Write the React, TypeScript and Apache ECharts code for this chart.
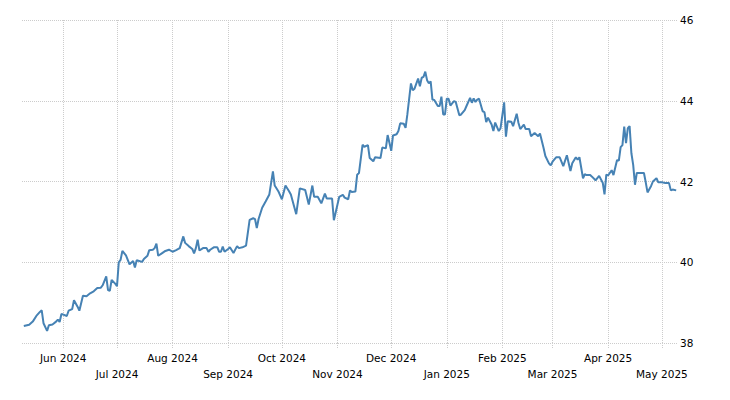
import React, { useEffect, useRef } from "react";
import * as echarts from "echarts";

const DATES: string[] = [
  "2024-05-10", "2024-05-13", "2024-05-15", "2024-05-17", "2024-05-19", "2024-05-20", "2024-05-21", "2024-05-23",
  "2024-05-24", "2024-05-26", "2024-05-28", "2024-05-29", "2024-05-30", "2024-05-31", "2024-06-03", "2024-06-04",
  "2024-06-06", "2024-06-07", "2024-06-09", "2024-06-10", "2024-06-12", "2024-06-14", "2024-06-16", "2024-06-18",
  "2024-06-20", "2024-06-22", "2024-06-23", "2024-06-25", "2024-06-26", "2024-06-27", "2024-06-28", "2024-06-30",
  "2024-07-01", "2024-07-02", "2024-07-03", "2024-07-04", "2024-07-06", "2024-07-08", "2024-07-10", "2024-07-11",
  "2024-07-12", "2024-07-15", "2024-07-16", "2024-07-18", "2024-07-19", "2024-07-21", "2024-07-22", "2024-07-23",
  "2024-07-24", "2024-07-26", "2024-07-28", "2024-07-30", "2024-08-01", "2024-08-03", "2024-08-05", "2024-08-07",
  "2024-08-08", "2024-08-10", "2024-08-12", "2024-08-13", "2024-08-14", "2024-08-15", "2024-08-16", "2024-08-18",
  "2024-08-20", "2024-08-21", "2024-08-22", "2024-08-24", "2024-08-26", "2024-08-27", "2024-08-28", "2024-08-29",
  "2024-08-30", "2024-09-01", "2024-09-02", "2024-09-04", "2024-09-06", "2024-09-07", "2024-09-09", "2024-09-11",
  "2024-09-13", "2024-09-15", "2024-09-16", "2024-09-17", "2024-09-18", "2024-09-20", "2024-09-22", "2024-09-24",
  "2024-09-26", "2024-09-27", "2024-09-29", "2024-10-01", "2024-10-03", "2024-10-05", "2024-10-06", "2024-10-09",
  "2024-10-11", "2024-10-14", "2024-10-16", "2024-10-18", "2024-10-19", "2024-10-21", "2024-10-23", "2024-10-25",
  "2024-10-26", "2024-10-29", "2024-10-30", "2024-10-31", "2024-11-02", "2024-11-04", "2024-11-05", "2024-11-07",
  "2024-11-08", "2024-11-09", "2024-11-11", "2024-11-12", "2024-11-13", "2024-11-15", "2024-11-16", "2024-11-18",
  "2024-11-19", "2024-11-21", "2024-11-22", "2024-11-25", "2024-11-26", "2024-11-28", "2024-11-29", "2024-11-30",
  "2024-12-01", "2024-12-02", "2024-12-04", "2024-12-05", "2024-12-06", "2024-12-08", "2024-12-09", "2024-12-10",
  "2024-12-12", "2024-12-13", "2024-12-14", "2024-12-16", "2024-12-17", "2024-12-18", "2024-12-19", "2024-12-20",
  "2024-12-21", "2024-12-22", "2024-12-23", "2024-12-24", "2024-12-25", "2024-12-27", "2024-12-28", "2024-12-29",
  "2024-12-30", "2024-12-31", "2025-01-01", "2025-01-02", "2025-01-03", "2025-01-05", "2025-01-06", "2025-01-08",
  "2025-01-09", "2025-01-11", "2025-01-12", "2025-01-14", "2025-01-15", "2025-01-16", "2025-01-17", "2025-01-18",
  "2025-01-19", "2025-01-21", "2025-01-22", "2025-01-23", "2025-01-24", "2025-01-26", "2025-01-27", "2025-01-28",
  "2025-01-30", "2025-01-31", "2025-02-02", "2025-02-03", "2025-02-04", "2025-02-06", "2025-02-07", "2025-02-09",
  "2025-02-10", "2025-02-11", "2025-02-13", "2025-02-14", "2025-02-16", "2025-02-17", "2025-02-19", "2025-02-21",
  "2025-02-22", "2025-02-24", "2025-02-25", "2025-02-27", "2025-02-28", "2025-03-01", "2025-03-03", "2025-03-05",
  "2025-03-07", "2025-03-09", "2025-03-11", "2025-03-12", "2025-03-14", "2025-03-15", "2025-03-16", "2025-03-18",
  "2025-03-19", "2025-03-20", "2025-03-22", "2025-03-23", "2025-03-25", "2025-03-27", "2025-03-29", "2025-03-30",
  "2025-03-31", "2025-04-01", "2025-04-03", "2025-04-04", "2025-04-06", "2025-04-07", "2025-04-08", "2025-04-09",
  "2025-04-10", "2025-04-11", "2025-04-12", "2025-04-13", "2025-04-14", "2025-04-15", "2025-04-16", "2025-04-17",
  "2025-04-20", "2025-04-21", "2025-04-22", "2025-04-23", "2025-04-25", "2025-04-26", "2025-04-28", "2025-04-29",
  "2025-05-01", "2025-05-03", "2025-05-05", "2025-05-06", "2025-05-07", "2025-05-09",
];

const VALUES: number[] = [
  38.42, 38.45, 38.53, 38.67, 38.77, 38.81, 38.49, 38.30,
  38.44, 38.46, 38.53, 38.58, 38.52, 38.72, 38.67, 38.80,
  38.84, 39.06, 38.90, 38.80, 39.17, 39.16, 39.23, 39.28,
  39.36, 39.37, 39.43, 39.65, 39.31, 39.29, 39.56, 39.47,
  39.41, 40.00, 40.06, 40.28, 40.17, 39.95, 40.03, 39.87,
  40.05, 40.01, 40.08, 40.16, 40.30, 40.31, 40.35, 40.46,
  40.16, 40.22, 40.28, 40.31, 40.26, 40.30, 40.35, 40.64,
  40.48, 40.40, 40.33, 40.22, 40.35, 40.56, 40.29, 40.35,
  40.35, 40.26, 40.31, 40.37, 40.37, 40.26, 40.26, 40.39,
  40.26, 40.33, 40.37, 40.23, 40.40, 40.35, 40.37, 40.41,
  41.05, 41.09, 41.07, 40.85, 41.07, 41.35, 41.51, 41.68,
  42.25, 41.90, 41.76, 41.56, 41.90, 41.76, 41.68, 41.19,
  41.83, 41.79, 41.43, 41.90, 41.62, 41.62, 41.46, 41.70,
  41.58, 41.58, 41.04, 41.23, 41.62, 41.67, 41.60, 41.56,
  41.78, 41.74, 41.75, 42.17, 42.21, 42.91, 42.86, 42.90,
  42.58, 42.50, 42.60, 42.58, 42.84, 42.82, 43.15, 42.96,
  42.76, 43.14, 43.17, 43.25, 43.44, 43.43, 43.33, 43.66,
  44.43, 44.26, 44.30, 44.55, 44.36, 44.57, 44.59, 44.72,
  44.51, 44.43, 44.48, 44.03, 44.02, 43.87, 43.87, 44.10,
  43.66, 43.66, 44.05, 44.05, 43.88, 43.99, 43.97, 43.64,
  43.66, 43.77, 43.87, 44.07, 43.95, 44.06, 43.97, 44.03,
  44.05, 43.74, 43.72, 43.47, 43.58, 43.41, 43.25, 43.46,
  43.25, 43.32, 43.96, 43.11, 43.49, 43.48, 43.37, 43.68,
  43.45, 43.30, 43.41, 43.30, 43.30, 43.12, 43.20, 43.12,
  43.19, 42.83, 42.63, 42.45, 42.40, 42.49, 42.60, 42.60,
  42.38, 42.65, 42.26, 42.45, 42.60, 42.54, 42.60, 42.08,
  42.18, 42.16, 42.16, 42.12, 42.03, 42.14, 41.97, 41.68,
  42.17, 42.15, 42.28, 42.16, 42.53, 42.52, 42.85, 42.90,
  43.36, 42.95, 43.32, 43.37, 42.70, 42.41, 41.92, 42.21,
  42.21, 42.21, 41.98, 41.73, 41.89, 42.00, 42.08, 41.98,
  41.98, 41.96, 41.96, 41.78, 41.80, 41.78,
];

const MONTH_NAMES: string[] = ["Jan", "Feb", "Mar", "Apr", "May", "Jun", "Jul", "Aug", "Sep", "Oct", "Nov", "Dec"];
const X_MIN = "2024-05-09";
const X_MAX = "2025-05-10";
const Y_MIN = 38;
const Y_MAX = 46;
const Y_STEP = 2;
const DAY = 86400000;

function toTs(s: string): number {
  const [y, m, d] = s.split("-").map(Number);
  return new Date(y, m - 1, d).getTime();
}

export default function App() {
  const ref = useRef<HTMLDivElement>(null);
  useEffect(() => {
    if (!ref.current) return;
    const chart = echarts.init(ref.current, null, { renderer: "svg" });
    const grid = "#cccccc";
    const font = "DejaVu Sans";
    chart.setOption({
      animation: false,
      backgroundColor: "#ffffff",
      grid: { left: 22, right: 52, top: 20, bottom: 57, containLabel: false },
      xAxis: {
        type: "time",
        min: toTs(X_MIN),
        max: toTs(X_MAX),
        splitNumber: 12,
        minInterval: 28 * DAY,
        maxInterval: 31 * DAY,
        axisLine: { show: false },
        axisTick: {
          show: true,
          length: 5,
          lineStyle: { color: grid, type: [1, 1], width: 1 },
        },
        splitLine: {
          show: true,
          showMinLine: false,
          showMaxLine: false,
          lineStyle: { color: grid, type: [1, 1], width: 1 },
        },
        axisLabel: {
          showMinLabel: false,
          showMaxLabel: false,
          margin: 9,
          formatter: (val: number) => {
            const d = new Date(val);
            const m = d.getMonth();
            const label = MONTH_NAMES[m] + " " + d.getFullYear();
            return m % 2 === 1 ? "{a|" + label + "}" : "{b|" + label + "}";
          },
          rich: {
            a: { fontFamily: font, fontSize: 10.5, color: "#000000", padding: [0, 0, 0, 0] },
            b: { fontFamily: font, fontSize: 10.5, color: "#000000", padding: [16, 0, 0, 0] },
          },
        },
      },
      yAxis: {
        type: "value",
        position: "right",
        min: Y_MIN,
        max: Y_MAX,
        interval: Y_STEP,
        axisLine: { show: false },
        axisTick: { show: false },
        splitLine: { show: true, lineStyle: { color: grid, type: [1, 1], width: 1 } },
        axisLabel: { margin: 2, fontFamily: font, fontSize: 10.5, color: "#000000" },
      },
      series: [
        {
          type: "line",
          data: DATES.map((d, i) => [toTs(d), VALUES[i]]),
          showSymbol: false,
          symbol: "none",
          lineStyle: { color: "#4682b4", width: 2 },
          itemStyle: { color: "#4682b4" },
        },
      ],
    });
    return () => chart.dispose();
  }, []);
  return (
    <div
      ref={ref}
      style={{ position: "fixed", left: 0, top: 0, width: 730, height: 400, background: "#fff" }}
    />
  );
}
